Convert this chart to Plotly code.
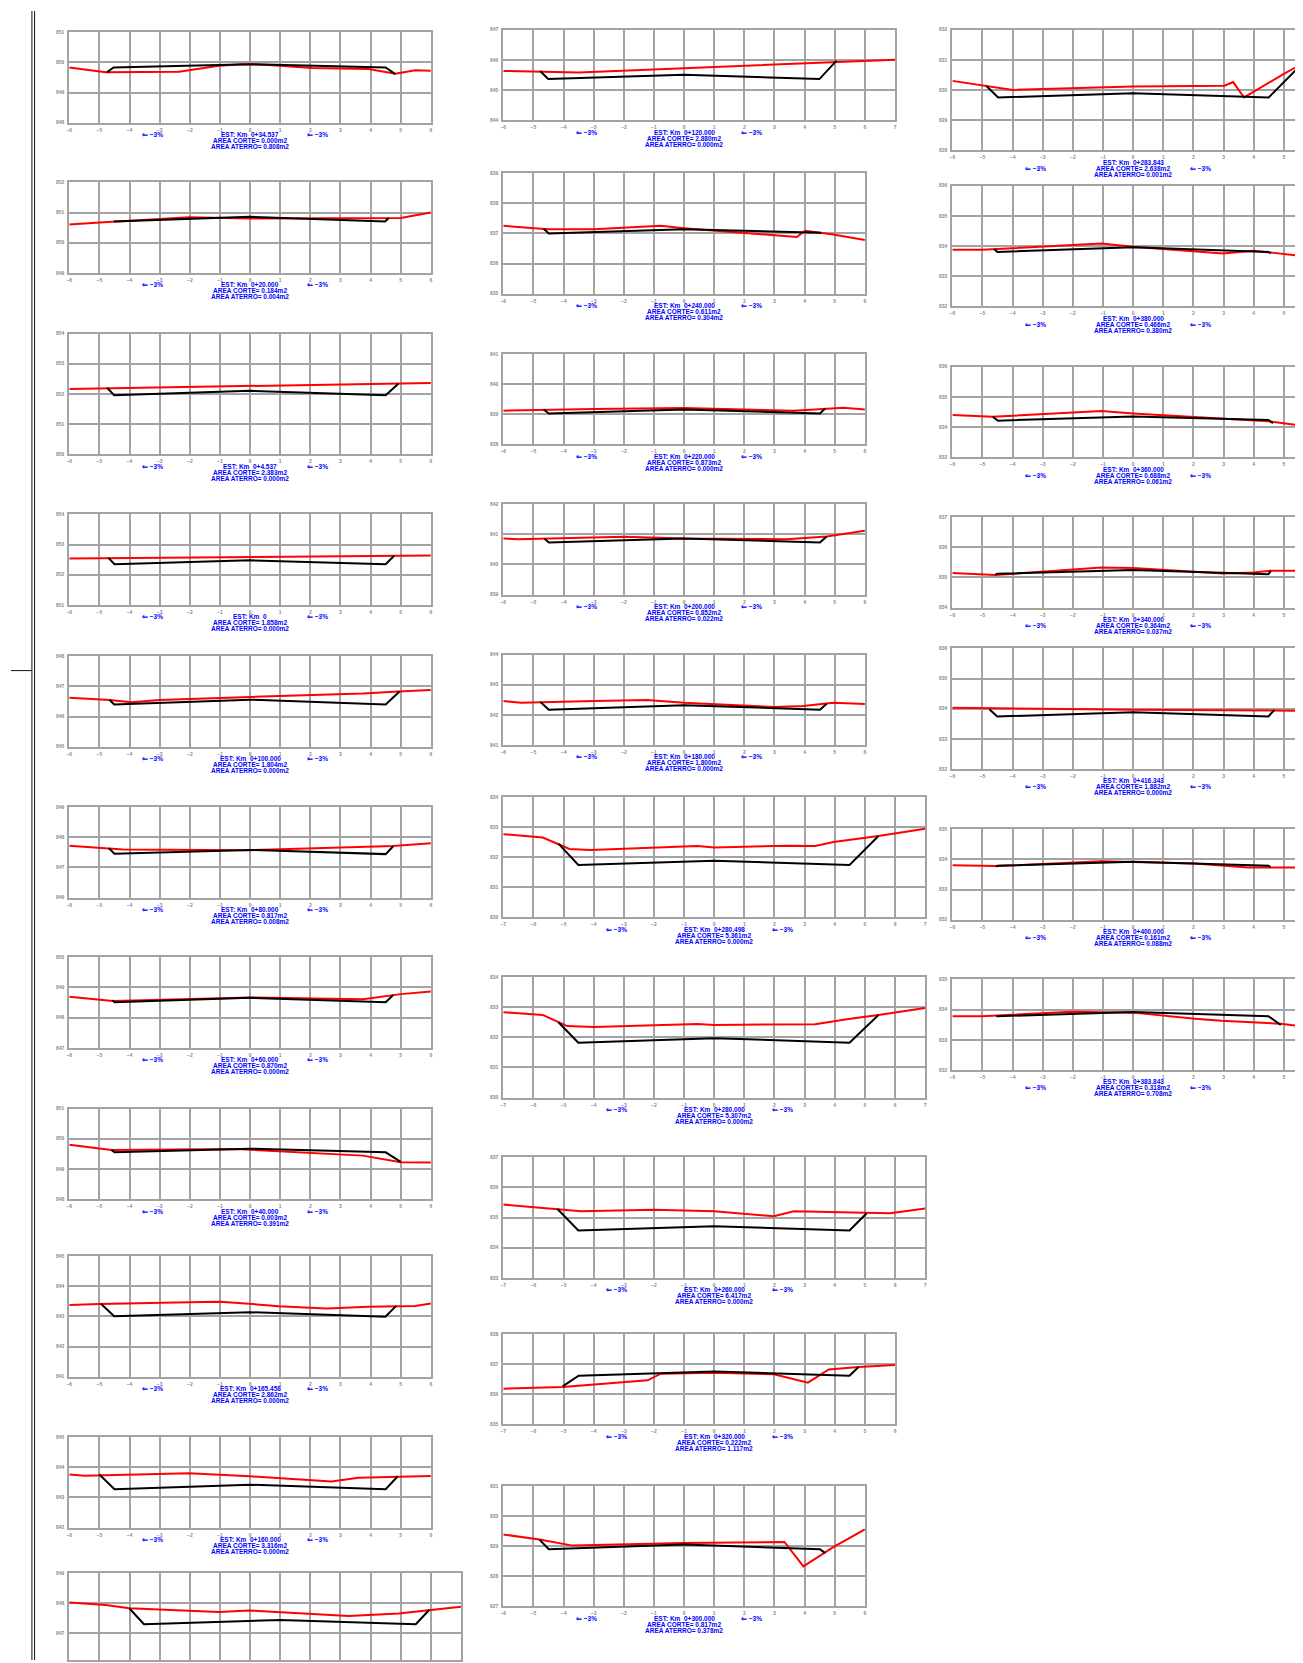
"""
Cross-section sheet (secoes transversais): terrain profile (red) vs
road platform template (black) for each station, laid out as on the plot sheet.
"""

import plotly.graph_objects as go

SCREEN_W, SCREEN_H = 1303, 1663
OFF = 8  # page body margin; sheet positions below are screen pixels
W, H = SCREEN_W - OFF, SCREEN_H - OFF
U = 30.25  # px per metre on the sheet (same scale both ways)

# ---------------------------------------------------------------- data
# station labels and areas, in sheet order (col 1 top->bottom, col 2, col 3)
ESTACAS = [
    "0+34.537", "0+20.000", "0+4.537", "0", "0+100.000", "0+80.000",
    "0+60.000", "0+40.000", "0+165.458", "0+160.000", None,
    "0+120.000", "0+240.000", "0+220.000", "0+200.000", "0+180.000",
    "0+280.498", "0+280.000", "0+260.000", "0+320.000", "0+300.000",
    "0+283.843", "0+380.000", "0+360.000", "0+340.000", "0+416.343",
    "0+400.000", "0+383.843",
]
AREA_CORTE = [
    "0.000", "0.184", "2.383", "1.858", "1.804", "0.817", "0.870", "0.003",
    "2.862", "3.316", None,
    "2.880", "0.611", "0.873", "0.852", "1.800", "5.361", "5.307", "6.417",
    "0.222", "0.817",
    "2.638", "0.466", "0.688", "0.364", "1.882", "0.161", "0.318",
]
AREA_ATERRO = [
    "0.808", "0.004", "0.000", "0.000", "0.000", "0.008", "0.000", "0.391",
    "0.000", "0.000", None,
    "0.000", "0.304", "0.000", "0.022", "0.000", "0.000", "0.000", "0.000",
    "1.117", "0.378",
    "0.001", "0.380", "0.061", "0.037", "0.000", "0.088", "0.708",
]
# elevation of the top grid line of each section
COTA_TOPO = [
    851, 852, 854, 854, 848, 849, 850, 851, 845, 845, 849,
    847, 839, 841, 842, 844, 834, 834, 837, 838, 831,
    832, 836, 836, 837, 836, 835, 835,
]
INCLINACAO = "\u21d0 \u22123%"

# terrain (x offset m, elevation m) and platform template, per section
TER_01 = [(-6, 849.83), (-4.79, 849.67), (-2.36, 849.69), (-1.03, 849.89), (-0.26, 849.94),
          (0.62, 849.91), (2.06, 849.81), (3.93, 849.78), (4.82, 849.62), (5.48, 849.74), (6, 849.72)]
PLA_01 = [(-4.75, 849.67), (-4.53, 849.83), (0, 849.94), (4.5, 849.83), (4.82, 849.61)]
TER_02 = [(-6, 850.60), (-4.99, 850.67), (-2.01, 850.84), (0, 850.80), (5.0, 850.82), (6, 851.0)]
PLA_02 = [(-4.52, 850.70), (0, 850.86), (4.48, 850.70), (4.6, 850.82)]
TER_03 = [(-6, 852.16), (0, 852.27), (6, 852.36)]
PLA_03 = [(-4.74, 852.20), (-4.51, 851.95), (0, 852.10), (4.5, 851.95), (4.92, 852.33)]
TER_04 = [(-6, 852.54), (0, 852.58), (6, 852.64)]
PLA_04 = [(-4.7, 852.56), (-4.5, 852.35), (0, 852.48), (4.5, 852.35), (4.78, 852.63)]
TER_05 = [(-6, 846.62), (-4.66, 846.55), (-3.94, 846.47), (-3.0, 846.55), (0, 846.65),
          (3.74, 846.76), (4.93, 846.83), (6, 846.88)]
PLA_05 = [(-4.66, 846.55), (-4.51, 846.40), (0, 846.56), (4.5, 846.40), (4.96, 846.83)]
TER_06 = [(-6, 847.72), (-4.69, 847.64), (-4.21, 847.59), (0, 847.57), (4.74, 847.71), (6, 847.80)]
PLA_06 = [(-4.69, 847.64), (-4.5, 847.45), (0, 847.58), (4.5, 847.44), (4.75, 847.70)]
TER_07 = [(-6, 848.69), (-4.55, 848.55), (0, 848.67), (3.74, 848.61), (5.0, 848.78), (6, 848.87)]
PLA_07 = [(-4.57, 848.58), (-4.5, 848.51), (0, 848.66), (4.5, 848.51), (4.75, 848.75)]
TER_08 = [(-6, 849.80), (-4.6, 849.63), (-0.44, 849.66), (3.74, 849.44), (5.0, 849.22), (6, 849.21)]
PLA_08 = [(-4.6, 849.63), (-4.5, 849.55), (0, 849.67), (4.5, 849.55), (5.0, 849.23)]
TER_09 = [(-6, 843.38), (-5.01, 843.41), (-2.03, 843.47), (-0.99, 843.49), (-0.04, 843.42),
          (0.95, 843.34), (2.0, 843.29), (2.55, 843.26), (3.93, 843.32), (5.48, 843.35), (6, 843.43)]
PLA_09 = [(-4.95, 843.42), (-4.51, 843.01), (0, 843.14), (4.49, 842.99), (4.85, 843.35)]
TER_10 = [(-6, 843.76), (-5.5, 843.72), (-2.03, 843.80), (0, 843.70), (2.7, 843.53),
          (3.6, 843.65), (6, 843.71)]
PLA_10 = [(-5.0, 843.76), (-4.5, 843.27), (0, 843.42), (4.5, 843.27), (4.9, 843.70)]
TER_11 = [(-7, 848.02), (-5.79, 847.94), (-5.01, 847.83), (-2.03, 847.71), (-1.04, 847.76),
          (2.27, 847.57), (3.93, 847.66), (4.95, 847.78), (6, 847.88)]
PLA_11 = [(-5.01, 847.83), (-4.52, 847.30), (0, 847.44), (4.5, 847.30), (4.95, 847.78)]

TER_12 = [(-6, 845.63), (-3.49, 845.58), (0, 845.72), (4.95, 845.93), (7, 846.0)]
PLA_12 = [(-4.78, 845.63), (-4.51, 845.36), (0, 845.50), (4.49, 845.36), (5.06, 845.97)]
TER_13 = [(-6, 837.25), (-4.52, 837.14), (-2.98, 837.14), (-0.78, 837.25), (0, 837.17),
          (0.99, 837.09), (3.74, 836.88), (4.02, 837.09), (4.95, 836.96), (6, 836.78)]
PLA_13 = [(-4.66, 837.15), (-4.49, 837.0), (0, 837.14), (4.51, 837.0), (4.55, 837.02)]
TER_14 = [(-6, 839.12), (-2.98, 839.18), (0, 839.21), (3.63, 839.12), (4.62, 839.18),
          (5.28, 839.22), (6, 839.16)]
PLA_14 = [(-4.66, 839.16), (-4.49, 839.03), (0, 839.16), (4.51, 839.03), (4.68, 839.19)]
TER_15 = [(-6, 840.86), (-5.5, 840.84), (-1.99, 840.92), (0, 840.86), (3.41, 840.84),
          (4.73, 840.93), (6, 841.12)]
PLA_15 = [(-4.63, 840.85), (-4.49, 840.73), (0, 840.86), (4.51, 840.73), (4.73, 840.93)]
TER_16 = [(-6, 842.46), (-5.4, 842.40), (-2.98, 842.46), (-1.22, 842.49), (0, 842.40),
          (3.02, 842.26), (3.96, 842.29), (4.95, 842.40), (6, 842.36)]
PLA_16 = [(-4.77, 842.43), (-4.49, 842.17), (0, 842.32), (4.51, 842.17), (4.73, 842.37)]
TER_17 = [(-7, 832.76), (-5.69, 832.65), (-5.03, 832.37), (-4.81, 832.27), (-4.1, 832.24),
          (-2.0, 832.32), (-0.56, 832.37), (0, 832.32), (2.43, 832.38), (3.35, 832.37),
          (3.96, 832.50), (5.45, 832.70), (7, 832.94)]
PLA_17 = [(-5.17, 832.45), (-4.51, 831.74), (0, 831.88), (4.49, 831.74), (5.45, 832.70)]
TER_18 = [(-7, 832.83), (-5.69, 832.74), (-4.88, 832.37), (-3.99, 832.34), (-0.56, 832.44),
          (0, 832.41), (3.35, 832.43), (4.4, 832.60), (5.45, 832.74), (7, 832.97)]
PLA_18 = [(-5.17, 832.50), (-4.51, 831.82), (0, 831.97), (4.49, 831.82), (5.45, 832.74)]
TER_19 = [(-7, 835.43), (-5.19, 835.29), (-4.42, 835.21), (-1.99, 835.26), (0, 835.21),
          (1.98, 835.04), (2.64, 835.21), (5.01, 835.16), (5.84, 835.14), (7, 835.30)]
PLA_19 = [(-5.21, 835.29), (-4.51, 834.57), (0, 834.71), (4.49, 834.57), (5.06, 835.14)]
TER_20 = [(-7, 836.18), (-5.03, 836.24), (-2.21, 836.46), (-1.77, 836.68), (0, 836.71),
          (1.98, 836.66), (3.11, 836.38), (3.8, 836.82), (4.79, 836.90), (6, 836.97)]
PLA_20 = [(-5.03, 836.26), (-4.5, 836.61), (0, 836.75), (4.49, 836.61), (4.79, 836.90)]
TER_21 = [(-6, 829.39), (-4.8, 829.22), (-3.7, 829.02), (0, 829.11), (3.33, 829.14),
          (3.96, 828.33), (4.95, 828.97), (6, 829.56)]
PLA_21 = [(-4.8, 829.22), (-4.49, 828.90), (0, 829.06), (4.51, 828.90), (4.68, 828.77)]

TER_22 = [(-6, 830.30), (-4.87, 830.13), (-3.99, 830.0), (0, 830.11), (3.03, 830.14),
          (3.32, 830.26), (3.68, 829.75), (5.0, 830.53), (5.36, 830.73), (6, 830.78)]
PLA_22 = [(-4.87, 830.13), (-4.48, 829.75), (0, 829.89), (4.5, 829.75), (5.5, 830.76)]
TER_23 = [(-6, 833.87), (-5.01, 833.87), (-1.05, 834.08), (0, 833.97), (2.99, 833.75),
          (3.99, 833.84), (4.68, 833.77), (6, 833.62)]
PLA_23 = [(-4.61, 833.90), (-4.51, 833.80), (0, 833.96), (4.49, 833.80), (4.57, 833.76)]
TER_24 = [(-6, 834.40), (-4.66, 834.34), (-1.05, 834.53), (0, 834.45), (4.49, 834.19), (6, 833.99)]
PLA_24 = [(-4.66, 834.34), (-4.49, 834.21), (0, 834.35), (4.49, 834.23), (4.64, 834.13)]
TER_25 = [(-6, 835.15), (-4.57, 835.08), (-1.05, 835.33), (0, 835.31), (2.99, 835.13),
          (3.99, 835.16), (4.57, 835.22), (6, 835.22)]
PLA_25 = [(-4.57, 835.10), (-4.51, 835.12), (0, 835.25), (4.49, 835.11), (4.57, 835.22)]
TER_26 = [(-6, 834.03), (0, 833.96), (6, 833.93)]
PLA_26 = [(-4.77, 833.98), (-4.51, 833.74), (0, 833.88), (4.49, 833.74), (4.68, 833.95)]
TER_27 = [(-6, 833.81), (-4.57, 833.78), (-1.05, 833.94), (0, 833.92), (2.05, 833.87),
          (3.81, 833.73), (6, 833.73)]
PLA_27 = [(-4.55, 833.76), (-4.5, 833.79), (0, 833.92), (4.5, 833.79), (4.55, 833.74)]
TER_28 = [(-6, 833.78), (-5.01, 833.78), (-2.04, 833.93), (0, 833.90), (2.05, 833.70),
          (2.93, 833.63), (4.9, 833.53), (6, 833.40)]
PLA_28 = [(-4.54, 833.78), (0, 833.92), (4.49, 833.78), (4.9, 833.49)]

TERRENO = [TER_01, TER_02, TER_03, TER_04, TER_05, TER_06, TER_07, TER_08, TER_09, TER_10,
           TER_11, TER_12, TER_13, TER_14, TER_15, TER_16, TER_17, TER_18, TER_19, TER_20,
           TER_21, TER_22, TER_23, TER_24, TER_25, TER_26, TER_27, TER_28]
PLATAFORMA = [PLA_01, PLA_02, PLA_03, PLA_04, PLA_05, PLA_06, PLA_07, PLA_08, PLA_09, PLA_10,
              PLA_11, PLA_12, PLA_13, PLA_14, PLA_15, PLA_16, PLA_17, PLA_18, PLA_19, PLA_20,
              PLA_21, PLA_22, PLA_23, PLA_24, PLA_25, PLA_26, PLA_27, PLA_28]

# ---------------------------------------------------------------- sheet layout
COL_X0 = {1: 66.5, 2: 502.2, 3: 953.0}  # screen px, left edge of grids per column
# (column, top px, grid rows, x min, x max)
PANELS = [
    (1, 29.3, 3, -6, 6), (1, 180.0, 3, -6, 6), (1, 331.7, 4, -6, 6), (1, 513.3, 3, -6, 6),
    (1, 655.6, 3, -6, 6), (1, 807.0, 3, -6, 6), (1, 957.8, 3, -6, 6), (1, 1109.6, 3, -6, 6),
    (1, 1257.7, 4, -6, 6), (1, 1439.3, 3, -6, 6), (1, 1575.7, 4, -7, 6),
    (2, 26.7, 3, -6, 7), (2, 170.7, 4, -6, 6), (2, 352.3, 3, -6, 6), (2, 503.0, 3, -6, 6),
    (2, 653.9, 3, -6, 6), (2, 796.7, 4, -7, 7), (2, 977.5, 4, -7, 7), (2, 1158.4, 4, -7, 7),
    (2, 1335.7, 3, -7, 6), (2, 1488.3, 4, -6, 6),
    (3, 26.7, 4, -6, 7), (3, 183.3, 4, -6, 7), (3, 365.0, 3, -6, 7), (3, 516.0, 3, -6, 7),
    (3, 647.7, 4, -6, 7), (3, 829.3, 3, -6, 7), (3, 980.0, 3, -6, 7),
]

GRID = "#a3a3a3"
TICK_FONT = dict(family="Liberation Sans, Arial", size=5, color="#8a8a8a", weight="bold")
TXT_FONT = dict(family="Liberation Sans, Arial", size=6.5, color="#0000ff", weight="bold")

fig = go.Figure()
annotations = []

for i, (col, top, rows, xmin, xmax) in enumerate(PANELS, start=1):
    k = "" if i == 1 else str(i)
    x0 = COL_X0[col] - OFF
    y0 = top - OFF
    x1 = x0 + (xmax - xmin) * U
    if x1 > W:  # sheet is cut at the right edge
        xmax = xmin + (W - x0) / U
        x1 = W
    ymax = COTA_TOPO[i - 1]
    ymin = ymax - rows
    y1 = y0 + rows * U
    cut_bottom = y1 > H
    if cut_bottom:  # cut at the bottom edge
        ymin = ymax - (H - y0) / U
        y1 = H

    axis_common = dict(
        showgrid=True, gridcolor=GRID, gridwidth=2,
        showline=True, linecolor=GRID, linewidth=2, mirror=True,
        zeroline=False, ticks="", dtick=1, tick0=0,
        tickfont=TICK_FONT, fixedrange=True,
    )
    fig.layout[f"xaxis{k}"] = dict(
        axis_common, domain=[x0 / W, min(x1 / W, 1.0)], range=[xmin, xmax], anchor=f"y{k}",
        showticklabels=not cut_bottom, ticklabelstandoff=1,
    )
    fig.layout[f"yaxis{k}"] = dict(
        axis_common, domain=[max(1 - y1 / H, 0.0), 1 - y0 / H], range=[ymin, ymax],
        anchor=f"x{k}", ticklabelstandoff=2,
    )

    ter = TERRENO[i - 1]
    pla = PLATAFORMA[i - 1]
    fig.add_trace(go.Scatter(
        x=[p[0] for p in ter], y=[p[1] for p in ter], mode="lines",
        line=dict(color="#ff0000", width=2), xaxis=f"x{k}", yaxis=f"y{k}",
        hoverinfo="skip", showlegend=False,
    ))
    fig.add_trace(go.Scatter(
        x=[p[0] for p in pla], y=[p[1] for p in pla], mode="lines",
        line=dict(color="#000000", width=2), xaxis=f"x{k}", yaxis=f"y{k}",
        hoverinfo="skip", showlegend=False,
    ))

    if ESTACAS[i - 1] is None:
        continue
    lines = ["EST: Km  " + ESTACAS[i - 1],
             "AREA CORTE= " + AREA_CORTE[i - 1] + "m2",
             "AREA ATERRO= " + AREA_ATERRO[i - 1] + "m2"]
    for n, t in enumerate(lines):
        annotations.append(dict(
            text=t, x=0, y=0, xref=f"x{k}", yref=f"y{k} domain",
            xanchor="center", yanchor="middle", yshift=-12 - 6 * n,
            showarrow=False, font=TXT_FONT,
        ))
    arrow_shift = -18 if col == 3 else -12
    for xa in (-3.25, 2.25):
        annotations.append(dict(
            text=INCLINACAO, x=xa, y=0, xref=f"x{k}", yref=f"y{k} domain",
            xanchor="center", yanchor="middle", yshift=arrow_shift,
            showarrow=False, font=TXT_FONT,
        ))

# sheet border on the left
shapes = [
    dict(type="line", xref="paper", yref="paper", x0=(29 - OFF) / W, x1=(29 - OFF) / W,
         y0=0, y1=1, line=dict(color="#111111", width=1)),
    dict(type="line", xref="paper", yref="paper", x0=(31.7 - OFF) / W, x1=(31.7 - OFF) / W,
         y0=0, y1=1, line=dict(color="#111111", width=1)),
    dict(type="line", xref="paper", yref="paper", x0=0, x1=(29 - OFF) / W,
         y0=1 - (670 - OFF) / H, y1=1 - (670 - OFF) / H, line=dict(color="#111111", width=1)),
]

fig.update_layout(
    width=W, height=H,
    margin=dict(l=0, r=0, t=0, b=0),
    paper_bgcolor="white", plot_bgcolor="white",
    annotations=annotations, shapes=shapes,
    showlegend=False,
)

fig.write_html("out.html")
